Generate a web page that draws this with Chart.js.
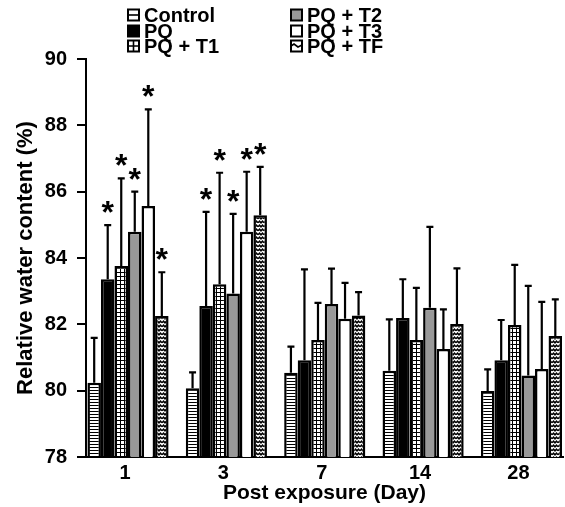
<!DOCTYPE html>
<html><head><meta charset="utf-8">
<script src="https://cdn.jsdelivr.net/npm/chart.js@4.4.0/dist/chart.umd.min.js"></script>
<style>html,body{margin:0;padding:0;background:#fff}#wrap{width:565px;height:507px}</style>
</head><body><div id="wrap"><canvas id="c" width="565" height="507"></canvas></div>
<script>
// ---- data ----
const categories = ['1', '3', '7', '14', '28'];
const seriesNames = ['Control', 'PQ', 'PQ + T1', 'PQ + T2', 'PQ + T3', 'PQ + TF'];
const control = [80.24, 80.07, 80.54, 80.60, 79.99];
const pq      = [83.36, 82.55, 80.92, 82.19, 80.92];
const pqT1    = [83.76, 83.21, 81.53, 81.53, 81.98];
const pqT2    = [84.79, 82.93, 82.61, 82.50, 80.46];
const pqT3    = [85.57, 84.79, 82.17, 81.26, 80.65];
const pqTF    = [82.25, 85.29, 82.27, 82.01, 81.65];
const controlErr = [1.35, 0.48, 0.79, 1.55, 0.65];
const pqErr      = [1.63, 2.84, 2.74, 1.17, 1.21];
const pqT1Err    = [2.64, 3.36, 1.12, 1.57, 1.81];
const pqT2Err    = [1.21, 2.40, 1.07, 2.44, 2.70];
const pqT3Err    = [2.91, 1.81, 1.08, 1.19, 2.03];
const pqTFErr    = [1.32, 1.46, 0.70, 1.68, 1.10];
const controlSig = [0, 0, 0, 0, 0];
const pqSig      = [1, 1, 0, 0, 0];
const pqT1Sig    = [1, 1, 0, 0, 0];
const pqT2Sig    = [1, 1, 0, 0, 0];
const pqT3Sig    = [1, 1, 0, 0, 0];
const pqTFSig    = [1, 1, 0, 0, 0];
const yTicks = [78, 80, 82, 84, 86, 88, 90];

const seriesValues = [control, pq, pqT1, pqT2, pqT3, pqTF];
const seriesErrs = [controlErr, pqErr, pqT1Err, pqT2Err, pqT3Err, pqTFErr];
const seriesSig = [controlSig, pqSig, pqT1Sig, pqT2Sig, pqT3Sig, pqTFSig];
const seriesStyle = ['hlines', 'black', 'grid', 'gray', 'white', 'wave'];

const FONT = 'Liberation Sans, Arial, sans-serif';

function makeFill(type) {
  if (type === 'black') return '#000';
  if (type === 'gray') return '#999999';
  if (type === 'white') return '#fff';
  const c = document.createElement('canvas');
  const g = c.getContext('2d');
  if (type === 'hlines') {
    c.width = 4; c.height = 3;
    g.fillStyle = '#fff'; g.fillRect(0, 0, 4, 3);
    g.fillStyle = '#000'; g.fillRect(0, 0, 4, 1);
  } else if (type === 'grid') {
    c.width = 4; c.height = 4;
    g.fillStyle = '#fff'; g.fillRect(0, 0, 4, 4);
    g.fillStyle = '#000'; g.fillRect(0, 0, 4, 1); g.fillRect(0, 0, 1, 4);
  } else if (type === 'wave') {
    c.width = 6; c.height = 4;
    g.fillStyle = '#fff'; g.fillRect(0, 0, 6, 4);
    g.strokeStyle = '#000'; g.lineWidth = 1.5;
    g.beginPath();
    g.moveTo(0, 2.8); g.lineTo(1.5, 1.2); g.lineTo(3, 2.8); g.lineTo(4.5, 1.2); g.lineTo(6, 2.8);
    g.stroke();
  }
  return g.createPattern(c, 'repeat');
}

const errorPlugin = {
  id: 'errbars',
  afterDatasetsDraw(chart) {
    const ctx = chart.ctx;
    const ys = chart.scales.y;
    ctx.save();
    ctx.strokeStyle = '#000';
    ctx.fillStyle = '#000';
    ctx.lineWidth = 2.2;
    chart.data.datasets.forEach((ds, d) => {
      const meta = chart.getDatasetMeta(d);
      meta.data.forEach((bar, j) => {
        const x = bar.x;
        const yTop = ys.getPixelForValue(seriesValues[d][j] + seriesErrs[d][j]);
        ctx.beginPath();
        ctx.moveTo(x, bar.y);
        ctx.lineTo(x, yTop);
        ctx.moveTo(x - 3.5, yTop);
        ctx.lineTo(x + 3.5, yTop);
        ctx.stroke();
        if (seriesSig[d][j]) {
          ctx.font = 'bold 32px ' + FONT;
          ctx.textAlign = 'center';
          ctx.textBaseline = 'alphabetic';
          ctx.fillText('*', x, yTop - 2);
        }
      });
    });
    ctx.restore();
  }
};

const legendPlugin = {
  id: 'customLegend',
  afterDraw(chart) {
    const ctx = chart.ctx;
    const cols = [128, 291];
    const rows = [15, 31, 46];
    ctx.save();
    ctx.font = 'bold 20px ' + FONT;
    ctx.textBaseline = 'middle';
    ctx.textAlign = 'left';
    seriesNames.forEach((name, i) => {
      const bx = cols[Math.floor(i / 3)];
      const cy = rows[i % 3];
      const s = 11;
      const by = cy - s / 2;
      const st = seriesStyle[i];
      ctx.fillStyle = st === 'black' ? '#000' : st === 'gray' ? '#999999' : '#fff';
      ctx.fillRect(bx, by, s, s);
      ctx.strokeStyle = '#000';
      ctx.lineWidth = 1.6;
      ctx.beginPath();
      if (st === 'hlines') { ctx.moveTo(bx, cy); ctx.lineTo(bx + s, cy); }
      if (st === 'grid') { ctx.moveTo(bx, cy); ctx.lineTo(bx + s, cy); ctx.moveTo(bx + s / 2, by); ctx.lineTo(bx + s / 2, by + s); }
      if (st === 'wave') { ctx.moveTo(bx, cy); ctx.lineTo(bx + 3, cy - 2); ctx.lineTo(bx + 7, cy + 1); ctx.lineTo(bx + s, cy - 1); }
      ctx.stroke();
      ctx.lineWidth = 2;
      ctx.strokeRect(bx, by, s, s);
      ctx.fillStyle = '#000';
      ctx.fillText(name, bx + 16, cy + 1);
    });
    ctx.restore();
  }
};

const tickFont = { family: FONT, size: 20, weight: 'bold' };

new Chart(document.getElementById('c'), {
  type: 'bar',
  data: {
    datasets: seriesNames.map((name, d) => ({
      label: name,
      data: seriesValues[d].map((v, i) => ({ x: i + 1, y: v })),
      backgroundColor: makeFill(seriesStyle[d]),
      borderColor: '#000',
      borderWidth: 2.5,
      borderSkipped: 'bottom'
    }))
  },
  options: {
    responsive: false,
    animation: false,
    layout: { padding: { top: 59, right: 2, left: 0, bottom: 0 } },
    datasets: { bar: { categoryPercentage: 0.825, barPercentage: 1, grouped: true } },
    plugins: { legend: { display: false }, tooltip: { enabled: false } },
    scales: {
      x: {
        type: 'linear', min: 0.573, max: 5.422, offset: false,
        grid: { display: false, drawTicks: false },
        border: { display: true, color: '#000', width: 2 },
        afterBuildTicks: (s) => { s.ticks = categories.map((c, i) => ({ value: i + 1 })); },
        ticks: { callback: (v) => categories[v - 1], font: tickFont, color: '#000', padding: 4, labelOffset: -3, autoSkip: false, maxRotation: 0 },
        title: { display: true, text: 'Post exposure (Day)', font: { family: FONT, size: 21, weight: 'bold' }, color: '#000', padding: { top: 0, bottom: 1 } },
        afterFit: (s) => { s.height = 50; }
      },
      y: {
        min: 78, max: 90,
        afterBuildTicks: (s) => { s.ticks = yTicks.map((v) => ({ value: v })); },
        grid: { display: true, drawOnChartArea: false, drawTicks: true, tickLength: 9, color: '#000', lineWidth: 2 },
        border: { display: true, color: '#000', width: 2 },
        ticks: { font: tickFont, color: '#000', padding: 10 },
        title: { display: true, text: 'Relative water content (%)', font: { family: FONT, size: 22, weight: 'bold' }, color: '#000', padding: { top: 13, bottom: 0 } },
        afterFit: (s) => { s.width = 86; }
      }
    }
  },
  plugins: [errorPlugin, legendPlugin]
});
</script>
</body></html>
